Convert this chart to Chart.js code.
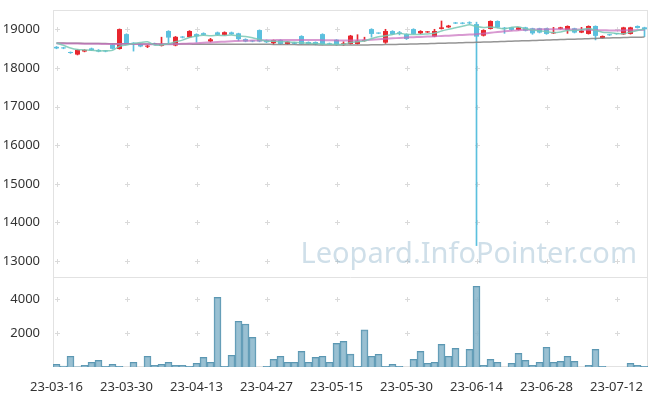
<!DOCTYPE html>
<html>
<head>
<meta charset="utf-8">
<script src="https://cdn.jsdelivr.net/npm/chart.js@4.4.0/dist/chart.umd.min.js"></script>
<style>
  html, body { margin: 0; padding: 0; background: #fff; }
  #wrap { position: relative; width: 657px; height: 396px; }
  #priceChart { position: absolute; left: 0; top: 0; }
  #volChart   { position: absolute; left: 0; top: 278px; }
</style>
</head>
<body>
<div id="wrap">
  <canvas id="priceChart" width="657" height="278"></canvas>
  <canvas id="volChart" width="657" height="118"></canvas>
</div>
<script>
// ── Data ──────────────────────────────────────────────────────
const dates = [
  '23-03-16','23-03-17','23-03-20','23-03-21','23-03-22','23-03-23','23-03-24','23-03-27','23-03-28','23-03-29',
  '23-03-30','23-03-31','23-04-03','23-04-04','23-04-05','23-04-06','23-04-07','23-04-10','23-04-11','23-04-12',
  '23-04-13','23-04-14','23-04-17','23-04-18','23-04-19','23-04-20','23-04-21','23-04-24','23-04-25','23-04-26',
  '23-04-27','23-04-28','23-05-02','23-05-03','23-05-04','23-05-08','23-05-09','23-05-10','23-05-11','23-05-12',
  '23-05-15','23-05-16','23-05-17','23-05-18','23-05-19','23-05-22','23-05-23','23-05-24','23-05-25','23-05-26',
  '23-05-30','23-05-31','23-06-01','23-06-02','23-06-05','23-06-07','23-06-08','23-06-09','23-06-12','23-06-13',
  '23-06-14','23-06-15','23-06-16','23-06-19','23-06-20','23-06-21','23-06-22','23-06-23','23-06-26','23-06-27',
  '23-06-28','23-06-29','23-06-30','23-07-03','23-07-04','23-07-05','23-07-06','23-07-07','23-07-10','23-07-11',
  '23-07-12','23-07-13','23-07-14','23-07-17','23-07-18'
];

const openP = [
  18550,18530,18410,18350,18430,18510,18470,18450,18610,18495,
  18880,18645,18620,18555,18640,18575,18960,18585,18810,18800,
  18880,18905,18690,18925,18860,18925,18900,18750,18700,18985,
  18720,18645,18725,18625,18660,18830,18675,18675,18880,18640,
  18735,18615,18625,18625,18700,19010,18905,18660,18960,18925,
  18880,19010,18900,18925,18815,19015,19055,19175,19170,19180,
  19140,18840,19015,19220,19040,19055,18990,19055,19030,19030,
  19030,18900,19015,18990,19030,18920,18885,19090,18780,18865,
  18890,18875,18885,19090,19055
];
const highP = [
  18560,18540,18420,18480,18480,18520,18480,18460,18620,19015,
  18890,18660,18630,18590,18650,18800,18970,18820,18820,18970,
  18890,18915,18770,18935,18940,18935,18905,18760,18710,18990,
  18730,18730,18735,18690,18670,18840,18680,18680,18890,18650,
  18740,18680,18850,18865,18800,19020,18915,19005,18970,18950,
  18890,19020,18970,18950,19005,19220,19110,19185,19180,19200,
  19190,18995,19225,19225,19055,19060,19060,19060,19035,19035,
  19035,19055,19060,19095,19035,19055,19095,19095,18835,18870,
  18895,19060,19060,19095,19060
];
const lowP = [
  18500,18500,18380,18340,18420,18450,18420,18420,18490,18490,
  18610,18440,18550,18530,18600,18570,18620,18575,18780,18790,
  18670,18850,18680,18850,18850,18870,18710,18680,18680,18680,
  18660,18615,18615,18615,18620,18620,18615,18600,18600,18610,
  18590,18590,18620,18620,18695,18800,18890,18640,18870,18860,
  18740,18880,18890,18920,18810,19010,19050,19150,19145,19140,
  13400,18830,19010,19040,18900,18980,18985,18960,18875,18910,
  18875,18895,19010,18900,18910,18915,18880,18730,18775,18845,
  18875,18870,18880,19035,18815
];
const closeP = [
  18510,18510,18390,18470,18470,18460,18430,18430,18500,19010,
  18620,18630,18560,18580,18610,18620,18790,18810,18790,18960,
  18820,18860,18745,18860,18930,18875,18750,18690,18690,18690,
  18670,18725,18625,18685,18630,18625,18625,18610,18610,18615,
  18600,18640,18840,18710,18730,18885,18895,18960,18875,18885,
  18755,18885,18960,18945,18960,19055,19100,19155,19150,19160,
  18815,18985,19220,19050,19020,18990,19055,18970,18900,18920,
  18885,18925,19055,19090,18920,18970,19090,18835,18830,18850,
  18880,19055,19055,19040,19005
];

// moving averages as drawn (short / mid / long)
const ma5 = [
  18650,18590,18520,18480,18470,18460,18444,18452,18458,18566,
  18598,18638,18664,18680,18600,18600,18632,18682,18724,18794,
  18834,18848,18835,18849,18843,18854,18832,18821,18787,18739,
  18698,18693,18680,18679,18667,18658,18638,18635,18620,18617,
  18612,18615,18661,18681,18704,18761,18812,18836,18869,18900,
  18874,18872,18872,18886,18901,18961,19004,19043,19084,19124,
  19076,19053,19066,19046,19018,19053,19067,19017,18987,18967,
  18946,18920,18937,18975,18975,18992,19025,18981,18929,18915,
  18897,18890,18934,18976,19007
];
const ma20 = [
  18640,18638,18636,18634,18632,18630,18628,18626,18625,18625,
  18624,18622,18620,18618,18616,18615,18618,18622,18628,18635,
  18645,18655,18665,18675,18685,18695,18702,18708,18712,18716,
  18720,18724,18727,18729,18730,18730,18729,18727,18724,18720,
  18716,18714,18716,18720,18726,18735,18745,18757,18770,18782,
  18792,18800,18808,18816,18824,18832,18840,18850,18860,18870,
  18878,18895,18915,18935,18952,18966,18980,18990,18998,19003,
  19006,19007,19006,19004,19001,18997,18992,18986,18980,18976,
  18974,18976,18980,18985,18990
];
const ma60 = [
  18650,18648,18645,18642,18640,18638,18636,18634,18632,18630,
  18628,18627,18626,18625,18624,18623,18622,18622,18621,18621,
  18620,18620,18620,18620,18619,18619,18618,18618,18617,18616,
  18615,18614,18612,18610,18608,18606,18604,18602,18600,18599,
  18598,18597,18597,18598,18600,18602,18605,18608,18611,18615,
  18619,18623,18628,18633,18638,18643,18648,18653,18658,18663,
  18668,18673,18678,18684,18690,18696,18702,18708,18714,18720,
  18726,18732,18738,18744,18750,18756,18762,18768,18774,18780,
  18786,18791,18796,18800,18804
];

const volume = [
  160,60,630,10,100,280,390,40,160,40,
  0,280,0,630,100,160,280,100,100,40,
  220,570,280,4100,40,690,2690,2530,1740,0,
  40,450,630,280,280,920,280,570,630,280,
  1390,1510,760,40,2180,630,750,40,160,40,
  0,450,920,220,280,1330,630,1100,40,1040,
  4750,100,450,280,0,220,800,390,100,280,
  1160,280,330,630,330,0,100,1040,40,0,
  0,0,220,100,40
];

const priceTicks  = [13000, 14000, 15000, 16000, 17000, 18000, 19000];
const volumeTicks = [2000, 4000];

// ── Look ──────────────────────────────────────────────────────
const UP   = '#e8262e';
const DOWN = '#5bc0de';
const candleColors = closeP.map((c, i) => c >= openP[i] ? UP : DOWN);

Chart.defaults.font.family = "'Noto Sans', sans-serif";
Chart.defaults.font.size   = 13;
Chart.defaults.color       = '#333';

const AXIS_W = 53;

// fixed-width y axis, no extra label padding above/below the plot
const fitYAxis = (s) => {
  s.width = AXIS_W;
  s.paddingTop = 0;
  s.paddingBottom = 0;
};

// frame + little "+" grid marks at tick crossings
const panelDecor = {
  id: 'panelDecor',
  beforeDatasetsDraw(chart, args, opts) {
    const { ctx, chartArea: a, scales } = chart;
    ctx.save();
    ctx.lineWidth = 1;
    ctx.strokeStyle = '#e2e2e2';
    ctx.beginPath();
    ctx.moveTo(a.left + 0.5, a.top);
    ctx.lineTo(a.left + 0.5, a.bottom);
    ctx.moveTo(a.right - 0.5, a.top);
    ctx.lineTo(a.right - 0.5, a.bottom);
    if (opts.top) {
      ctx.moveTo(a.left, a.top + 0.5);
      ctx.lineTo(a.right, a.top + 0.5);
    }
    ctx.moveTo(a.left, a.bottom - 0.5);
    ctx.lineTo(a.right, a.bottom - 0.5);
    ctx.stroke();

    ctx.strokeStyle = '#dadada';
    ctx.beginPath();
    for (let i = 0; i < dates.length; i += 10) {
      const x = Math.round(scales.x.getPixelForValue(i)) + 0.5;
      scales.y.ticks.forEach(t => {
        const y = Math.round(scales.y.getPixelForValue(t.value)) + 0.5;
        ctx.moveTo(x - 2.5, y); ctx.lineTo(x + 2.5, y);
        ctx.moveTo(x, y - 2.5); ctx.lineTo(x, y + 2.5);
      });
    }
    ctx.stroke();
    ctx.restore();
  }
};

// site watermark
const watermark = {
  id: 'watermark',
  afterDatasetsDraw(chart) {
    const { ctx } = chart;
    ctx.save();
    ctx.font = "29px 'Noto Sans', sans-serif";
    ctx.fillStyle = 'rgba(130,172,196,0.38)';
    ctx.textAlign = 'right';
    ctx.textBaseline = 'alphabetic';
    ctx.fillText('Leopard.InfoPointer.com', 637, 263);
    ctx.restore();
  }
};

// ══════════════════════════════════════════════════════════════
// PRICE PANEL — candles + moving averages
// ══════════════════════════════════════════════════════════════
new Chart(document.getElementById('priceChart'), {
  type: 'bar',
  data: {
    labels: dates,
    datasets: [
      {
        type: 'line', data: ma5, order: 0,
        borderColor: 'rgba(120,200,180,0.85)', borderWidth: 1.5,
        pointRadius: 0, tension: 0.3
      },
      {
        type: 'line', data: ma20, order: 0,
        borderColor: 'rgba(200,110,190,0.7)', borderWidth: 2,
        pointRadius: 0, tension: 0.3
      },
      {
        type: 'line', data: ma60, order: 0,
        borderColor: 'rgba(130,130,130,0.85)', borderWidth: 1.5,
        pointRadius: 0, tension: 0.3
      },
      {
        // candle bodies
        data: dates.map((_, i) => [openP[i], closeP[i]]),
        backgroundColor: candleColors,
        barPercentage: 0.72, categoryPercentage: 1,
        grouped: false, order: 1, minBarLength: 1
      },
      {
        // wicks
        data: dates.map((_, i) => [lowP[i], highP[i]]),
        backgroundColor: candleColors,
        barThickness: 1,
        grouped: false, order: 2
      }
    ]
  },
  options: {
    responsive: false,
    animation: false,
    layout: { padding: { top: 10, right: 9, left: 0, bottom: 0 } },
    plugins: {
      legend: { display: false },
      tooltip: { enabled: false },
      panelDecor: { top: true }
    },
    scales: {
      x: { display: false, offset: true },
      y: {
        min: 12560, max: 19505,
        grid: { display: false },
        border: { display: false },
        afterBuildTicks: (s) => { s.ticks = priceTicks.map(v => ({ value: v })); },
        afterFit: fitYAxis,
        ticks: { padding: 5, callback: (v) => String(v) }
      }
    }
  },
  plugins: [panelDecor, watermark]
});

// ══════════════════════════════════════════════════════════════
// VOLUME PANEL
// ══════════════════════════════════════════════════════════════
new Chart(document.getElementById('volChart'), {
  type: 'bar',
  data: {
    labels: dates,
    datasets: [{
      data: volume,
      backgroundColor: 'rgba(130,178,200,0.82)',
      borderColor: '#5b97b2',
      borderWidth: 1,
      barPercentage: 1, categoryPercentage: 1
    }]
  },
  options: {
    responsive: false,
    animation: false,
    layout: { padding: { top: 0, right: 9, left: 0, bottom: 0 } },
    plugins: {
      legend: { display: false },
      tooltip: { enabled: false },
      panelDecor: { top: false }
    },
    scales: {
      x: {
        offset: true,
        grid: { display: false },
        border: { display: false },
        afterFit: (s) => { s.height = 29; },
        ticks: {
          autoSkip: false, maxRotation: 0, padding: 4,
          callback: (val, i) => (i % 10 === 0 ? dates[i] : null)
        }
      },
      y: {
        min: 0, max: 5235,
        grid: { display: false },
        border: { display: false },
        afterBuildTicks: (s) => { s.ticks = volumeTicks.map(v => ({ value: v })); },
        afterFit: fitYAxis,
        ticks: { padding: 5, callback: (v) => String(v) }
      }
    }
  },
  plugins: [panelDecor]
});
</script>
</body>
</html>
